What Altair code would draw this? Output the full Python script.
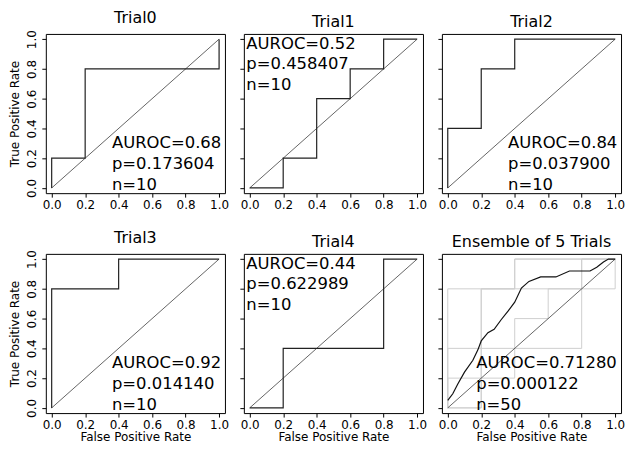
import altair as alt
import pandas as pd

titles = ["Trial0", "Trial1", "Trial2", "Trial3", "Trial4", "Ensemble of 5 Trials"]

trial_fpr = [
    [0.0, 0.0, 0.2, 0.2, 1.0, 1.0],
    [0.0, 0.2, 0.2, 0.4, 0.4, 0.6, 0.6, 0.8, 0.8, 1.0],
    [0.0, 0.0, 0.2, 0.2, 0.4, 0.4, 1.0],
    [0.0, 0.0, 0.4, 0.4, 1.0],
    [0.0, 0.2, 0.2, 0.8, 0.8, 1.0],
]
trial_tpr = [
    [0.0, 0.2, 0.2, 0.8, 0.8, 1.0],
    [0.0, 0.0, 0.2, 0.2, 0.6, 0.6, 0.8, 0.8, 1.0, 1.0],
    [0.0, 0.4, 0.4, 0.8, 0.8, 1.0, 1.0],
    [0.0, 0.8, 0.8, 1.0, 1.0],
    [0.0, 0.0, 0.4, 0.4, 1.0, 1.0],
]

ens_fpr = [0.0, 0.03, 0.06, 0.10, 0.15, 0.18, 0.20, 0.24, 0.277, 0.32, 0.36, 0.40,
           0.44, 0.485, 0.555, 0.646, 0.727, 0.85, 0.89, 0.93, 0.96, 1.0]
ens_tpr = [0.05, 0.095, 0.16, 0.24, 0.32, 0.39, 0.45, 0.505, 0.528, 0.594, 0.65, 0.71,
           0.805, 0.85, 0.88, 0.88, 0.92, 0.92, 0.945, 0.98, 1.0, 1.0]

auroc_text = ["AUROC=0.68", "AUROC=0.52", "AUROC=0.84", "AUROC=0.92", "AUROC=0.44", "AUROC=0.71280"]
p_text = ["p=0.173604", "p=0.458407", "p=0.037900", "p=0.014140", "p=0.622989", "p=0.000122"]
n_text = ["n=10", "n=10", "n=10", "n=10", "n=10", "n=50"]
ann_x = [0.36, -0.02, 0.36, 0.36, -0.02, 0.17]
ann_y = [0.30, 0.97, 0.30, 0.30, 0.97, 0.30]
line_step = 0.14

diag = [0.0, 1.0]
tick_values = [0.0, 0.2, 0.4, 0.6, 0.8, 1.0]

FONT = "DejaVu Sans"
W, H = 180, 160


def make_panel(i):
    row, col = divmod(i, 3)
    xscale = alt.Scale(domain=[-0.035, 1.035], nice=False, zero=False)
    yscale = alt.Scale(domain=[-0.035, 1.035], nice=False, zero=False)
    xaxis = alt.Axis(values=tick_values, format=".1f", labels=True,
                     title="False Positive Rate" if row == 1 else None)
    yaxis = alt.Axis(values=tick_values, format=".1f", labels=(col == 0),
                     title="True Positive Rate" if col == 0 else None,
                     labelAngle=270, labelAlign="center", labelBaseline="bottom")
    x = alt.X("x:Q", scale=xscale, axis=xaxis)
    y = alt.Y("y:Q", scale=yscale, axis=yaxis)

    layers = []
    if i < 5:
        df = pd.DataFrame({"x": trial_fpr[i], "y": trial_tpr[i],
                           "k": list(range(len(trial_fpr[i])))})
        step = alt.Chart(df).mark_line(color="#222222", strokeWidth=1.2).encode(
            x=x, y=y, order="k:Q")
    else:
        rows = []
        for t in range(5):
            for k, (a, b) in enumerate(zip(trial_fpr[t], trial_tpr[t])):
                rows.append({"x": a, "y": b, "k": k, "t": t})
        gdf = pd.DataFrame(rows)
        gray = alt.Chart(gdf).mark_line(color="#cfcfcf", strokeWidth=1.0).encode(
            x=x, y=y, order="k:Q", detail="t:N")
        layers.append(gray)
        edf = pd.DataFrame({"x": ens_fpr, "y": ens_tpr, "k": list(range(len(ens_fpr)))})
        step = alt.Chart(edf).mark_line(color="#111111", strokeWidth=1.2).encode(
            x=x, y=y, order="k:Q")

    ddf = pd.DataFrame({"x": diag, "y": diag})
    dline = alt.Chart(ddf).mark_line(color="#222222", strokeWidth=0.7).encode(x=x, y=y)
    layers.append(dline)
    layers.append(step)

    texts = [auroc_text[i], p_text[i], n_text[i]]
    tdf = pd.DataFrame({"x": [ann_x[i]] * 3,
                        "y": [ann_y[i] - line_step * j for j in range(3)],
                        "label": texts})
    txt = alt.Chart(tdf).mark_text(align="left", baseline="middle", fontSize=16.5,
                                   font=FONT, color="black").encode(
        x=x, y=y, text="label:N")
    layers.append(txt)

    return alt.layer(*layers).properties(
        width=W, height=H,
        title=alt.TitleParams(titles[i], fontSize=16, font=FONT, fontWeight="normal",
                              color="black", offset=4))


panels = [make_panel(i) for i in range(6)]

chart = alt.concat(*panels, columns=3, spacing={"row": 61, "column": 19},
                   bounds="flush").configure_view(
    stroke="black", strokeWidth=1.0
).configure_axis(
    domain=False, grid=False, tickColor="black", tickSize=4, tickWidth=1,
    labelFont=FONT, labelFontSize=12, labelColor="black",
    titleFont=FONT, titleFontSize=12, titleFontWeight="normal", titleColor="black"
).configure_axisX(
    labelPadding=2, titlePadding=2
).configure_axisY(
    labelPadding=3, titlePadding=4
).properties(background="white",
             padding={"left": 0, "top": 0, "right": 0, "bottom": 0})

chart.save("out.html", embed_options={"renderer": "svg", "actions": False})
